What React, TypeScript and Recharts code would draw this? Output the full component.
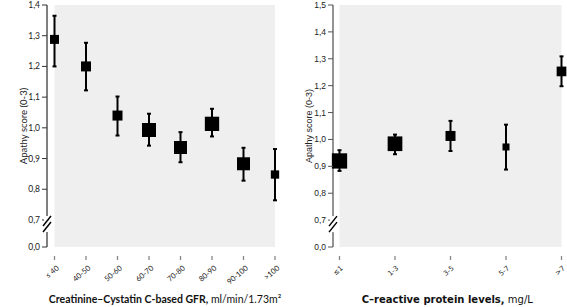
import { ComposedChart, Scatter, ErrorBar, XAxis, YAxis, ZAxis, CartesianGrid, ReferenceArea } from 'recharts';

// left panel: eGFR groups
const gfrGroups = ['≤ 40', '40-50', '50-60', '60-70', '70-80', '80-90', '90-100', '>100'];
const gfrMean = [1.288, 1.2, 1.04, 0.993, 0.936, 1.013, 0.883, 0.848];
const gfrLower = [1.2, 1.122, 0.975, 0.942, 0.888, 0.972, 0.828, 0.764];
const gfrUpper = [1.365, 1.277, 1.102, 1.046, 0.986, 1.062, 0.935, 0.931];
const gfrWeight = [81, 100, 100, 196, 169, 205, 169, 69];
const gfrTicks = [0.612, 0.7, 0.8, 0.9, 1.0, 1.1, 1.2, 1.3, 1.4];

// right panel: CRP groups
const crpGroups = ['≤1', '1-3', '3-5', '5-7', '>7'];
const crpMean = [0.92, 0.984, 1.013, 0.972, 1.253];
const crpLower = [0.883, 0.945, 0.957, 0.888, 1.198];
const crpUpper = [0.96, 1.018, 1.069, 1.055, 1.309];
const crpWeight = [234, 216, 100, 49, 94];
const crpTicks = [0.6, 0.7, 0.8, 0.9, 1.0, 1.1, 1.2, 1.3, 1.4, 1.5];

const build = (groups: string[], mean: number[], lo: number[], hi: number[], w: number[]) =>
  groups.map((g, i) => ({ group: g, mean: mean[i], err: [mean[i] - lo[i], hi[i] - mean[i]], w: w[i] }));

const gfrData = build(gfrGroups, gfrMean, gfrLower, gfrUpper, gfrWeight);
const crpData = build(crpGroups, crpMean, crpLower, crpUpper, crpWeight);

const fmt = (v: number, min: number) => (v === min ? '0,0' : v.toFixed(1).replace('.', ','));

function YTick(props: any) {
  const { x, y, payload, min, font, axisColor } = props;
  const v = payload.value;
  return (
    <g>
      <line x1={x - 5} x2={x} y1={y} y2={y} stroke={axisColor} strokeWidth={1} />
      <text x={x - 7} y={y} dy={3} textAnchor="end" fontFamily={font} fontSize={8.5} fill="#222">
        {fmt(v, min)}
      </text>
      {/* axis break between 0,0 and 0,7 */}
      {Math.abs(v - 0.7) < 1e-6 && (
        <g>
          <rect x={x - 3} y={y - 4} width={6} height={16} fill="#fff" />
          <line x1={x - 4} y1={y + 6} x2={x + 4} y2={y - 4} stroke="#000" strokeWidth={1.5} />
          <line x1={x - 4} y1={y + 12} x2={x + 4} y2={y + 2} stroke="#000" strokeWidth={1.5} />
        </g>
      )}
    </g>
  );
}

function XTick(props: any) {
  const { x, y, payload, font, size, dx } = props;
  const half = payload.offset ?? 14;
  const ly = y + 9;
  const ax = x + dx;
  const ay = y + 22;
  return (
    <g>
      <line x1={x - half} x2={x + half} y1={ly} y2={ly} stroke="#000" strokeWidth={1.3} />
      <line x1={x} x2={x} y1={ly} y2={ly + 4} stroke="#888" strokeWidth={1.3} />
      <text x={ax} y={ay} transform={`rotate(-40 ${ax} ${ay})`} textAnchor="end" fontFamily={font} fontSize={size} fill="#222">
        {payload.value}
      </text>
    </g>
  );
}

function XTitle(props: any) {
  const { viewBox, bold, rest, font, size, dx = 0 } = props;
  const cx = viewBox.x + viewBox.width / 2 + dx;
  return (
    <text x={cx} y={303} textAnchor="middle" fontFamily={font} fontSize={size} fill="#111">
      <tspan fontWeight="bold">{bold}</tspan>
      <tspan>{rest}</tspan>
    </text>
  );
}

function YTitle(props: any) {
  const { viewBox, x, font, size } = props;
  const cy = viewBox.y + viewBox.height / 2;
  return (
    <g transform={`translate(${x},${cy})`}>
      <text transform="rotate(-90)" textAnchor="middle" dy={3} fontFamily={font} fontSize={size} fill="#222">
        Apathy score (0-3)
      </text>
    </g>
  );
}

export default function App() {
  return (
    <div style={{ position: 'absolute', left: 0, top: 0, width: 567, height: 307, display: 'flex', background: '#fff' }}>
      <ComposedChart width={285} height={307} data={gfrData} margin={{ top: 5, right: 10, bottom: 0, left: 0 }}>
        <ReferenceArea x1={gfrGroups[0]} x2={gfrGroups[gfrGroups.length - 1]} y1={0.612} y2={1.4} fill="#efefef" fillOpacity={1} stroke="none" />
        <CartesianGrid vertical={false} stroke="#fff" strokeWidth={2} />
        <XAxis
          dataKey="group"
          type="category"
          interval={0}
          padding={{ left: 7.5, right: 0 }}
          height={60}
          tickSize={0}
          tickMargin={0}
          axisLine={false}
          tickLine={false}
          tick={<XTick font="Lato" size={7.5} dx={5} />}
          label={<XTitle bold="Creatinine–Cystatin C-based GFR," rest=" ml/min/1.73m²" font="Lato" size={10.5} dx={4} />}
        />
        <YAxis
          type="number"
          domain={[0.612, 1.4]}
          ticks={gfrTicks}
          interval={0}
          width={47}
          tickSize={0}
          tickMargin={0}
          tickLine={false}
          axisLine={{ stroke: '#000', strokeWidth: 1 }}
          tick={<YTick min={0.612} font="Lato" axisColor="#333" />}
          label={<YTitle x={6} font="Lato" size={9.5} />}
        />
        <ZAxis dataKey="w" domain={[0, 205]} range={[0, 205]} />
        <Scatter dataKey="mean" fill="#000" shape="square" isAnimationActive={false}>
          <ErrorBar dataKey="err" direction="y" width={2} stroke="#000" strokeWidth={2} isAnimationActive={false} />
        </Scatter>
      </ComposedChart>
      <ComposedChart width={282} height={307} data={crpData} margin={{ top: 5, right: 5.5, bottom: 0, left: 0 }}>
        <ReferenceArea x1={crpGroups[0]} x2={crpGroups[crpGroups.length - 1]} y1={0.6} y2={1.5} fill="#efefef" fillOpacity={1} stroke="none" />
        <CartesianGrid vertical={false} stroke="#fff" strokeWidth={2} />
        <XAxis
          dataKey="group"
          type="category"
          interval={0}
          padding={{ left: 6.5, right: 0 }}
          height={60}
          tickSize={0}
          tickMargin={0}
          axisLine={false}
          tickLine={false}
          tick={<XTick font="DejaVu Sans" size={7} dx={4} />}
          label={<XTitle bold="C–reactive protein levels," rest=" mg/L" font="DejaVu Sans" size={10} />}
        />
        <YAxis
          type="number"
          domain={[0.6, 1.5]}
          ticks={crpTicks}
          interval={0}
          width={48}
          tickSize={0}
          tickMargin={0}
          tickLine={false}
          axisLine={{ stroke: '#888', strokeWidth: 1.8 }}
          tick={<YTick min={0.6} font="Liberation Sans" axisColor="#555" />}
          label={<YTitle x={8} font="Liberation Sans" size={9} />}
        />
        <ZAxis dataKey="w" domain={[0, 234]} range={[0, 234]} />
        <Scatter dataKey="mean" fill="#000" shape="square" isAnimationActive={false}>
          <ErrorBar dataKey="err" direction="y" width={2} stroke="#000" strokeWidth={2} isAnimationActive={false} />
        </Scatter>
      </ComposedChart>
    </div>
  );
}
